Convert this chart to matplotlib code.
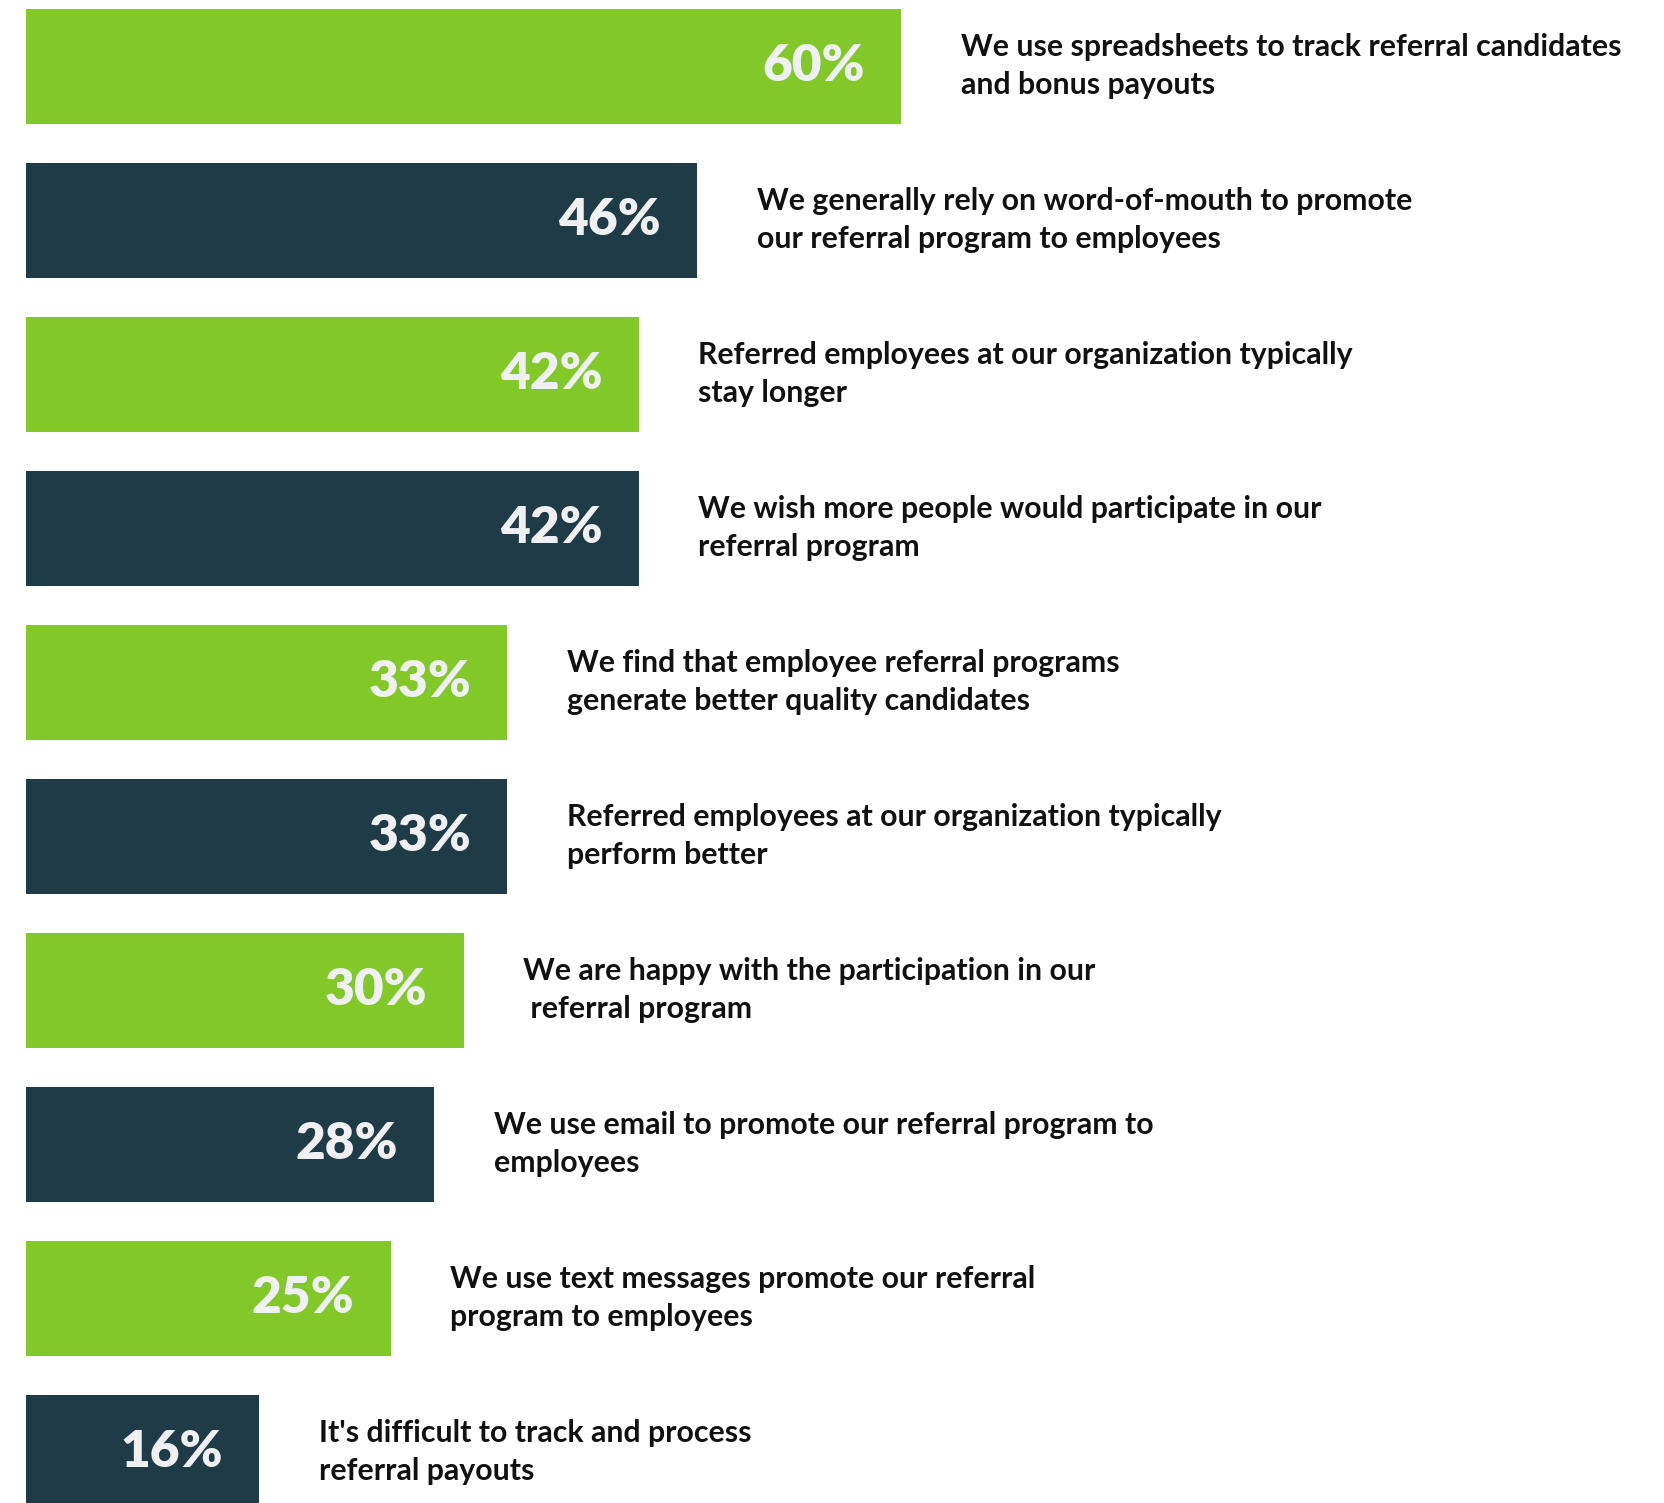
import matplotlib.pyplot as plt

# survey statements, top to bottom
statements = [
    "We use spreadsheets to track referral candidates\nand bonus payouts",
    "We generally rely on word-of-mouth to promote\nour referral program to employees",
    "Referred employees at our organization typically\nstay longer",
    "We wish more people would participate in our\nreferral program",
    "We find that employee referral programs\ngenerate better quality candidates",
    "Referred employees at our organization typically\nperform better",
    "We are happy with the participation in our\n referral program",
    "We use email to promote our referral program to\nemployees",
    "We use text messages promote our referral\nprogram to employees",
    "It's difficult to track and process\nreferral payouts",
]
percent = [60, 46, 42, 42, 33, 33, 30, 28, 25, 16]

GREEN = "#82C828"
DARK = "#1F3B47"
colors = [GREEN if i % 2 == 0 else DARK for i in range(len(percent))]

fig = plt.figure(figsize=(16.65, 15.03), dpi=100)
ax = fig.add_axes([0, 0, 1, 1])

ypos = list(range(len(percent)))
ax.barh(ypos, percent, height=0.747, color=colors)

for y, v, txt in zip(ypos, percent, statements):
    ax.annotate(f"{v}%", xy=(v, y), xytext=(-26, 0), textcoords="offset points",
                ha="right", va="center", fontsize=37, fontweight="heavy",
                color="#EEF0F2", family="Lato")
    ax.annotate(txt, xy=(v, y), xytext=(43, 0), textcoords="offset points",
                ha="left", va="center", fontsize=21.8, fontweight="bold",
                color="#111111", family="Lato", linespacing=1.43)

ax.set_xlim(-1.75, 112.3)
ax.set_ylim(9.329, -0.431)
ax.axis("off")

fig.savefig("out.png", dpi=100, facecolor="white")
